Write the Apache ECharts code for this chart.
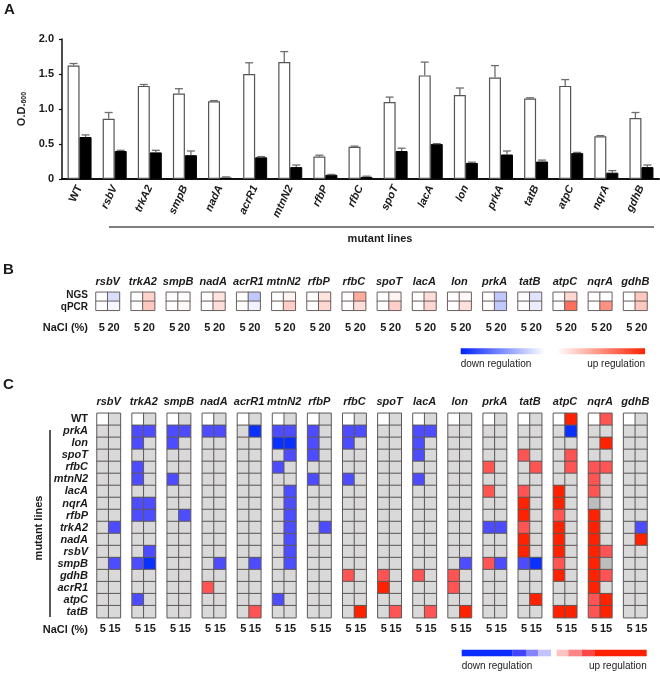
<!DOCTYPE html>
<html><head><meta charset="utf-8">
<script src="https://cdn.jsdelivr.net/npm/echarts@6/dist/echarts.min.js"></script>
<style>html,body{margin:0;padding:0;background:#fff}#c{width:660px;height:674px}</style>
</head><body><div id="c"></div>
<script>
// ---------- Panel A data ----------
const strains = ['WT','rsbV','trkA2','smpB','nadA','acrR1','mtnN2','rfbP','rfbC','spoT','lacA','lon','prkA','tatB','atpC','nqrA','gdhB'];
const odLow     = [1.62,0.86,1.33,1.22,1.11,1.50,1.67,0.32,0.46,1.10,1.48,1.20,1.45,1.15,1.33,0.61,0.87];
const odLowErr  = [0.03,0.09,0.02,0.07,0.01,0.16,0.15,0.02,0.01,0.07,0.19,0.10,0.17,0.01,0.09,0.01,0.08];
const odHigh    = [0.60,0.40,0.38,0.34,0.02,0.31,0.17,0.06,0.03,0.40,0.50,0.23,0.35,0.25,0.37,0.09,0.17];
const odHighErr = [0.03,0.01,0.03,0.06,0.01,0.01,0.03,0.005,0.01,0.04,0.005,0.01,0.05,0.02,0.01,0.03,0.03];
const yTickLabels = ['0','0.5','1.0','1.5','2.0'];

// ---------- Panel B data ----------
const genes = ['rsbV','trkA2','smpB','nadA','acrR1','mtnN2','rfbP','rfbC','spoT','lacA','lon','prkA','tatB','atpC','nqrA','gdhB'];
const rowsB = ['NGS','qPCR'];
const naclB = ['5','20'];
const ngs5   = [0,0,0,0,0,0,0,0,0,0,0,0,0,0,0,0];
const ngs20  = [-0.15,0.20,0.00,0.12,-0.25,0.05,0.12,0.38,0.05,0.15,0.03,-0.25,-0.12,0.18,0.00,0.25];
const qpcr5  = [0,0,0,0,0,0,0,0,0,0,0,0,0,0,0,0];
const qpcr20 = [-0.04,0.25,0.03,0.15,-0.06,0.22,0.18,0.15,0.22,0.18,0.14,-0.25,-0.08,0.65,0.50,0.25];

// ---------- Panel C data ----------
// codes: -2 strong down, -1 down, 0 no change, 1 up, 2 strong up, 8 reference (white), 9 n.d. (dark grey)
const rowsC = ['WT','prkA','lon','spoT','rfbC','mtnN2','lacA','nqrA','rfbP','trkA2','nadA','rsbV','smpB','gdhB','acrR1','atpC','tatB'];
const naclC = ['5','15'];
const heat5 = [
  /*rsbV */ [8,0,0,0,0,0,0,0,0,0,0,0,0,0,0,0,0],
  /*trkA2*/ [8,-1,-1,0,-1,-1,0,-1,-1,0,0,0,-1,0,0,-1,0],
  /*smpB */ [8,-1,-1,0,0,-1,0,0,0,0,0,0,0,0,0,0,0],
  /*nadA */ [8,-1,0,0,0,0,0,0,0,0,0,0,0,0,1,0,0],
  /*acrR1*/ [8,0,0,0,0,0,0,0,0,0,0,0,0,0,0,0,0],
  /*mtnN2*/ [8,-1,-2,0,-1,0,0,0,0,0,0,0,0,0,0,-1,0],
  /*rfbP */ [8,-1,-1,-1,0,-1,0,0,0,0,0,0,0,0,0,0,0],
  /*rfbC */ [8,-1,-1,0,0,-1,0,0,0,0,0,0,0,1,0,0,0],
  /*spoT */ [8,0,0,0,0,0,0,0,0,0,0,0,0,1,2,0,0],
  /*lacA */ [8,-1,-1,-1,0,-1,0,0,0,0,0,0,0,1,0,0,0],
  /*lon  */ [8,0,0,0,0,0,0,0,0,0,0,0,0,1,1,0,0],
  /*prkA */ [8,0,0,0,1,0,1,0,0,-1,0,0,1,0,0,0,0],
  /*tatB */ [8,0,0,1,0,0,1,2,2,1,2,2,-1,0,0,0,0],
  /*atpC */ [8,0,0,0,0,0,2,2,1,2,2,2,1,2,0,0,2],
  /*nqrA */ [8,0,0,0,1,1,1,9,2,2,2,2,2,2,2,1,1],
  /*gdhB */ [8,0,0,0,0,0,0,0,0,0,0,0,0,0,0,0,0]
];
const heat15 = [
  /*rsbV */ [0,0,0,0,0,0,0,0,0,-1,0,0,-1,0,0,0,0],
  /*trkA2*/ [0,-1,0,0,0,0,0,-1,-1,0,0,-1,-2,0,0,0,0],
  /*smpB */ [0,-1,0,0,0,0,0,0,-1,0,0,0,0,0,0,0,0],
  /*nadA */ [0,-1,0,0,0,0,0,0,0,0,0,0,-1,0,0,0,0],
  /*acrR1*/ [0,-2,0,0,0,0,0,0,0,0,0,0,-1,0,0,0,1],
  /*mtnN2*/ [0,-1,-2,-1,0,0,-1,-1,-1,-1,-1,-1,-1,0,0,0,0],
  /*rfbP */ [0,0,0,0,0,0,0,0,0,-1,0,0,0,0,0,0,0],
  /*rfbC */ [0,-1,0,0,0,0,0,0,0,0,0,0,0,0,0,0,2],
  /*spoT */ [0,0,0,0,0,0,0,0,0,0,0,0,0,0,0,0,1],
  /*lacA */ [0,-1,0,0,0,0,0,0,0,0,0,0,0,0,0,0,1],
  /*lon  */ [0,0,0,0,0,0,0,0,0,0,0,0,-1,0,0,0,2],
  /*prkA */ [0,0,0,0,0,0,0,0,0,-1,0,0,-1,0,0,0,0],
  /*tatB */ [0,0,0,0,1,0,0,0,0,0,0,0,-2,0,0,2,0],
  /*atpC */ [2,-2,0,1,1,0,0,0,0,0,0,0,0,0,0,0,2],
  /*nqrA */ [1,0,2,0,1,0,0,0,0,0,0,1,9,1,0,2,2],
  /*gdhB */ [0,0,0,0,0,0,0,0,0,-1,2,0,0,0,0,0,0]
];

// ---------- build ----------
const FONT = 'Liberation Sans, Arial, Helvetica, sans-serif';
const INK = '#1a1a1a';
const NCOL = genes.length * 3 - 1;           // cells + one-cell gaps
const colCats = Array.from({length: NCOL}, (_, i) => 'c' + i);
const topCats = Array.from({length: NCOL + 1}, (_, i) => 't' + i);

const dataB = [];
genes.forEach((g, gi) => {
  dataB.push([3*gi, 0, ngs5[gi]], [3*gi+1, 0, ngs20[gi]], [3*gi, 1, qpcr5[gi]], [3*gi+1, 1, qpcr20[gi]]);
});
const dataC = [];
genes.forEach((g, gi) => {
  rowsC.forEach((r, ri) => {
    dataC.push([3*gi, ri, heat5[gi][ri]], [3*gi+1, ri, heat15[gi][ri]]);
  });
});

function errSeries(means, errs, sign) {
  return {
    type: 'custom', xAxisIndex: 0, yAxisIndex: 0, z: 5,
    data: means.map((m, i) => [i, m, errs[i]]),
    encode: {x: 0, y: 1},
    renderItem: function (params, api) {
      const i = api.value(0), m = api.value(1), e = api.value(2);
      const base = api.coord([i, m]);
      const top = api.coord([i, m + e]);
      const x = base[0] + sign * 6;
      const st = {stroke: '#6e6e6e', lineWidth: 1.3};
      return {type: 'group', children: [
        {type: 'line', shape: {x1: x, y1: base[1], x2: x, y2: top[1]}, style: st},
        {type: 'line', shape: {x1: x - 4, y1: top[1], x2: x + 4, y2: top[1]}, style: st}
      ]};
    }
  };
}

const geneLabel = (fs) => ({
  fontFamily: FONT, fontSize: fs, fontWeight: 'bold', fontStyle: 'italic', color: INK
});

function txt(x, y, text, font, align, extra) {
  return Object.assign({type: 'text', x: x, y: y, silent: true,
    style: {text: text, font: font, fill: INK, align: align || 'left', verticalAlign: 'middle'}}, extra || {});
}

const legendC = [
  [461.7, 512.7, '#0a2cff'], [512.7, 526, '#4444ff'], [526, 538.3, '#8484ff'], [538.3, 551, '#c2c2ff'],
  [556.7, 568.3, '#ffc2c2'], [568.3, 581.7, '#ff8484'], [581.7, 595, '#ff4646'], [595, 646.7, '#ff2000']
];

const graphics = [
  txt(4, 10, 'A', 'bold 15px ' + FONT),
  txt(3, 270, 'B', 'bold 15px ' + FONT),
  txt(3, 385, 'C', 'bold 15px ' + FONT),
  {type: 'line', silent: true, shape: {x1: 109, y1: 227, x2: 654, y2: 227}, style: {stroke: '#555', lineWidth: 1.5}},
  txt(380, 239, 'mutant lines', 'bold 11px ' + FONT, 'center'),
  txt(88, 328, 'NaCl (%)', 'bold 11px ' + FONT, 'right'),
  {type: 'rect', silent: true, shape: {x: 460.7, y: 348.3, width: 184.3, height: 6},
    style: {fill: new echarts.graphic.LinearGradient(0, 0, 1, 0, [
      {offset: 0, color: '#0022ff'}, {offset: 0.46, color: '#ffffff'},
      {offset: 0.52, color: '#ffffff'}, {offset: 1, color: '#ff2200'}])}},
  txt(460.7, 364.5, 'down regulation', '10px ' + FONT, 'left'),
  txt(645, 364.5, 'up regulation', '10px ' + FONT, 'right'),
  {type: 'line', silent: true, shape: {x1: 50, y1: 430, x2: 50, y2: 617}, style: {stroke: '#222', lineWidth: 1.5}},
  txt(39, 528, 'mutant lines', 'bold 11px ' + FONT, 'center', {rotation: Math.PI / 2}),
  txt(88, 629.5, 'NaCl (%)', 'bold 11px ' + FONT, 'right'),
  txt(461.7, 666, 'down regulation', '10px ' + FONT, 'left'),
  txt(646.7, 666, 'up regulation', '10px ' + FONT, 'right')
];
legendC.forEach(s => graphics.push({type: 'rect', silent: true,
  shape: {x: s[0], y: 649.7, width: s[1] - s[0], height: 6.6}, style: {fill: s[2]}}));

const rowLabB = {fontFamily: FONT, fontSize: 10, fontWeight: 'bold', color: INK};

const chart = echarts.init(document.getElementById('c'), null, {renderer: 'canvas', width: 660, height: 674});
chart.setOption({
  animation: false,
  backgroundColor: '#ffffff',
  textStyle: {fontFamily: FONT},
  grid: [
    {left: 62, top: 39, width: 597, height: 140},
    {left: 96, top: 292.3, width: 551, height: 18},
    {left: 97, top: 413.3, width: 550, height: 204.4}
  ],
  xAxis: [
    {gridIndex: 0, type: 'category', data: strains,
      axisLine: {lineStyle: {color: '#111', width: 2}}, axisTick: {show: false},
      axisLabel: {interval: 0, rotate: 65, margin: 7,
        formatter: v => v === 'WT' ? '{u|' + v + '}' : '{i|' + v + '}',
        rich: {u: Object.assign(geneLabel(11), {fontStyle: 'normal'}), i: geneLabel(11)}}},
    {gridIndex: 1, type: 'category', data: colCats, position: 'bottom',
      axisLine: {show: false}, axisTick: {show: false},
      axisLabel: {interval: 0, margin: 12, fontFamily: FONT, fontSize: 11, fontWeight: 'bold', color: INK,
        formatter: (v, i) => i % 3 === 2 ? '' : naclB[i % 3]}},
    {gridIndex: 1, type: 'category', data: topCats, position: 'top', boundaryGap: false,
      axisLine: {show: false}, axisTick: {show: false},
      axisLabel: Object.assign({interval: 0, margin: 5,
        formatter: (v, i) => i % 3 === 1 ? genes[(i - 1) / 3] : ''}, geneLabel(11))},
    {gridIndex: 2, type: 'category', data: colCats, position: 'bottom',
      axisLine: {show: false}, axisTick: {show: false},
      axisLabel: {interval: 0, margin: 6, fontFamily: FONT, fontSize: 11, fontWeight: 'bold', color: INK,
        formatter: (v, i) => i % 3 === 2 ? '' : naclC[i % 3]}},
    {gridIndex: 2, type: 'category', data: topCats, position: 'top', boundaryGap: false,
      axisLine: {show: false}, axisTick: {show: false},
      axisLabel: Object.assign({interval: 0, margin: 6,
        formatter: (v, i) => i % 3 === 1 ? genes[(i - 1) / 3] : ''}, geneLabel(11))}
  ],
  yAxis: [
    {gridIndex: 0, type: 'value', min: 0, max: 2, interval: 0.5,
      axisLine: {show: true, lineStyle: {color: '#111', width: 1.5}},
      axisTick: {show: true, length: 3, lineStyle: {color: '#111', width: 1.2}},
      splitLine: {show: false},
      axisLabel: {margin: 8, fontFamily: FONT, fontSize: 11, fontWeight: 'bold', color: INK,
        formatter: (v) => yTickLabels[Math.round(v / 0.5)]},
      name: '{a|O.D.}{b|600}', nameLocation: 'middle', nameGap: 32, nameRotate: 90,
      nameTextStyle: {rich: {
        a: {fontFamily: FONT, fontSize: 11, fontWeight: 'bold', color: INK},
        b: {fontFamily: FONT, fontSize: 7, fontWeight: 'bold', color: INK, padding: [5, 0, 0, 0]}}}},
    {gridIndex: 1, type: 'category', data: rowsB, inverse: true,
      axisLine: {show: false}, axisTick: {show: false},
      axisLabel: {interval: 0, margin: 8, hideOverlap: false,
        formatter: (v, i) => i === 0 ? '{t|' + v + '}' : '{b|' + v + '}',
        rich: {t: Object.assign({padding: [0, 0, 3, 0]}, rowLabB), b: Object.assign({padding: [3, 0, 0, 0]}, rowLabB)}}},
    {gridIndex: 2, type: 'category', data: rowsC, inverse: true,
      axisLine: {show: false}, axisTick: {show: false},
      axisLabel: {margin: 9, interval: 0,
        formatter: v => v === 'WT' ? '{u|' + v + '}' : '{i|' + v + '}',
        rich: {u: Object.assign(geneLabel(11), {fontStyle: 'normal'}), i: geneLabel(11)}}}
  ],
  visualMap: [
    {type: 'continuous', show: false, seriesIndex: 4, min: -1, max: 1, dimension: 2,
      inRange: {color: ['#0022ff', '#ffffff', '#ff2200']}},
    {type: 'piecewise', show: false, seriesIndex: 5, dimension: 2,
      pieces: [
        {value: -2, color: '#0a30ff'}, {value: -1, color: '#4d4dff'}, {value: 0, color: '#d9d9d9'},
        {value: 1, color: '#ff5454'}, {value: 2, color: '#ff2200'},
        {value: 8, color: '#ffffff'}, {value: 9, color: '#bdbdbd'}]}
  ],
  series: [
    {type: 'bar', xAxisIndex: 0, yAxisIndex: 0, data: odLow, barWidth: 12, barGap: '0%',
      itemStyle: {color: '#ffffff', borderColor: '#555', borderWidth: 1.2}, emphasis: {disabled: true}},
    {type: 'bar', xAxisIndex: 0, yAxisIndex: 0, data: odHigh, barWidth: 12, barGap: '0%',
      itemStyle: {color: '#000000', borderColor: '#000', borderWidth: 1}, emphasis: {disabled: true}},
    errSeries(odLow, odLowErr, -1),
    errSeries(odHigh, odHighErr, 1),
    {type: 'heatmap', xAxisIndex: 1, yAxisIndex: 1, data: dataB,
      itemStyle: {borderColor: '#6a5f5f', borderWidth: 1}, emphasis: {disabled: true}},
    {type: 'heatmap', xAxisIndex: 3, yAxisIndex: 2, data: dataC,
      itemStyle: {borderColor: '#5e5858', borderWidth: 1}, emphasis: {disabled: true}}
  ],
  graphic: graphics
});
</script></body></html>
